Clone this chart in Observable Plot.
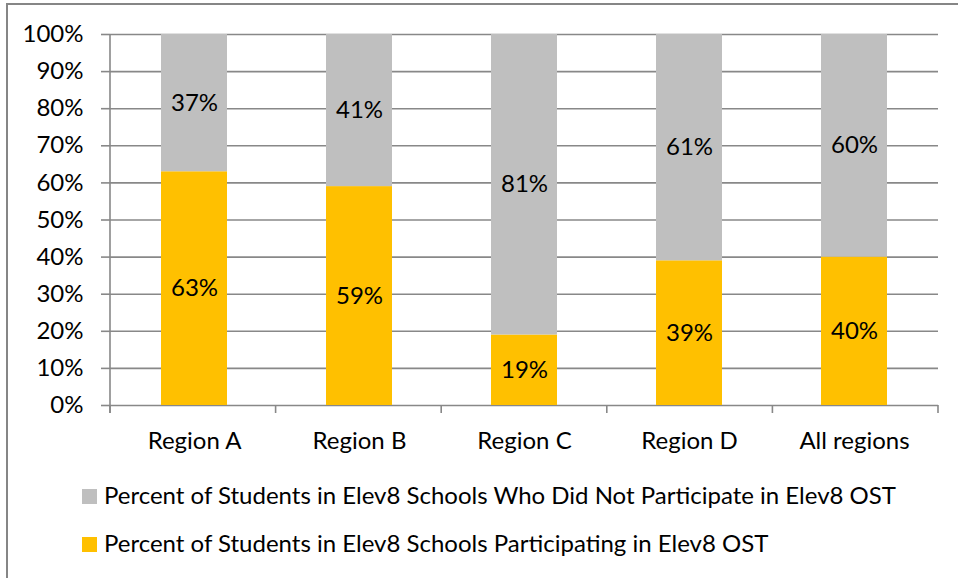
<!DOCTYPE html>
<html>
<head>
<meta charset="utf-8">
<script src="https://cdn.jsdelivr.net/npm/d3@7"></script>
<script src="https://cdn.jsdelivr.net/npm/@observablehq/plot@0.6"></script>
<style>
  html, body { margin: 0; padding: 0; background: #fff; }
  #wrap { position: relative; width: 958px; height: 578px; overflow: hidden; font-family: Lato, sans-serif; }
  #border { position: absolute; left: 6px; top: 3px; width: 1000px; height: 1000px; border: 2px solid #868686; box-sizing: border-box; pointer-events: none; }
  #chart { position: absolute; left: 0; top: 0; }
  #legend { position: absolute; left: 0; top: 470px; }
</style>
</head>
<body>
<div id="wrap">
  <div id="chart"></div>
  <div id="legend"></div>
  <div id="border"></div>
</div>
<script>
const categories = ["Region A", "Region B", "Region C", "Region D", "All regions"];
const participating = [63, 59, 19, 39, 40];
const notParticipating = [37, 41, 81, 61, 60];
const yTicks = [0, 10, 20, 30, 40, 50, 60, 70, 80, 90, 100];
const seriesNames = [
  "Percent of Students in Elev8 Schools Who Did Not Participate in Elev8 OST",
  "Percent of Students in Elev8 Schools Participating in Elev8 OST"
];
const seriesColors = ["#BFBFBF", "#FFC000"];

const rows = categories.flatMap((c, i) => [
  {cat: c, series: seriesNames[1], value: participating[i]},
  {cat: c, series: seriesNames[0], value: notParticipating[i]}
]);

const gridColor = "#888888";
const FS = 24;
const W = 958, H = 470, ML = 110, MR = 20, MT = 34, MB = 65;

const plot = Plot.plot({
  width: W, height: H,
  marginLeft: ML, marginRight: MR, marginTop: MT, marginBottom: MB,
  style: {fontFamily: "Lato, sans-serif", fontSize: FS + "px", color: "#000", background: "transparent", overflow: "visible"},
  x: {domain: categories, paddingInner: 0.6, paddingOuter: 0.3, label: null},
  y: {domain: [0, 100], label: null},
  color: {domain: seriesNames, range: seriesColors},
  marks: [
    Plot.ruleY(yTicks, {stroke: gridColor, strokeWidth: 1.6}),
    Plot.barY(rows, {x: "cat", y: "value", fill: "series", order: null}),
    Plot.text(rows, Plot.stackY({x: "cat", y: "value", order: null, text: d => d.value + "%", fill: "#000", fontSize: FS})),
    Plot.axisY({ticks: yTicks, tickFormat: d => d + "%", tickSize: 9, tickPadding: 18, stroke: gridColor, strokeWidth: 1.6, fontSize: FS, label: null}),
    Plot.axisX({tickSize: 0, tickPadding: 26, fontSize: FS, label: null})
  ]
});
document.getElementById("chart").appendChild(plot);

// axis lines: vertical y-axis line and category boundary ticks
const svg = d3.select(plot);
const xs = plot.scale("x");
const ys = plot.scale("y");
const r0 = xs.range[0], r1 = xs.range[1];
const step = (r1 - r0) / categories.length;
const y0 = ys.apply(0), y100 = ys.apply(100);
const g = svg.append("g").attr("stroke", gridColor).attr("stroke-width", 1.6);
g.append("line").attr("x1", r0).attr("x2", r0).attr("y1", y100).attr("y2", y0 + 8);
for (let k = 0; k <= categories.length; k++) {
  const x = r0 + k * step;
  g.append("line").attr("x1", x).attr("x2", x).attr("y1", y0).attr("y2", y0 + 8);
}

// legend
const lg = d3.select("#legend").append("svg").attr("width", W).attr("height", 108)
  .style("font-family", "Lato, sans-serif").style("font-size", FS + "px");
seriesNames.forEach((name, i) => {
  const by = 34 + i * 48;
  lg.append("rect").attr("x", 82).attr("y", by - 15).attr("width", 15).attr("height", 15).attr("fill", seriesColors[i]);
  lg.append("text").attr("x", 104).attr("y", by).attr("fill", "#000").text(name);
});
</script>
</body>
</html>
